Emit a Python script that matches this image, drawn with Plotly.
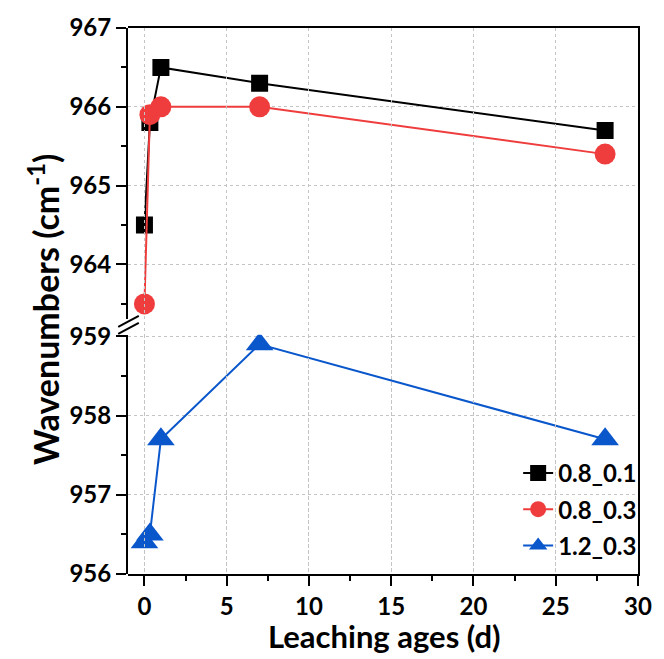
import plotly.graph_objects as go

# ---- data ----
ages = [0, 0.33, 1, 7, 28]
series_names = ["0.8_0.1", "0.8_0.3", "1.2_0.3"]
wn_08_01 = [964.5, 965.8, 966.5, 966.3, 965.7]
wn_08_03 = [963.5, 965.9, 966.0, 966.0, 965.4]
wn_12_03 = [956.4, 956.5, 957.7, 958.9, 957.7]
x_tick_vals = [0, 5, 10, 15, 20, 25, 30]
upper_ticks = [964, 965, 966, 967]
lower_ticks = [956, 957, 958, 959]

FONT = "Lato"
BLACK = "#000000"
RED = "#EF3D3D"
BLUE = "#0A57CC"
GRID = "#C4C4C4"

fig = go.Figure()

# empty helper trace on full-height axis (for full-height x grid / frame)
fig.add_trace(go.Scatter(x=[None], y=[None], xaxis="x", yaxis="y3",
                         showlegend=False, hoverinfo="skip"))
fig.add_trace(go.Scatter(
    x=ages, y=wn_08_01, name=series_names[0], xaxis="x", yaxis="y",
    mode="lines+markers", legendgroup="a",
    line=dict(color=BLACK, width=2),
    marker=dict(symbol="square", size=17, color=BLACK)))
fig.add_trace(go.Scatter(
    x=ages, y=wn_08_03, name=series_names[1], xaxis="x", yaxis="y",
    mode="lines+markers", legendgroup="b",
    line=dict(color=RED, width=2),
    marker=dict(symbol="circle", size=21, color=RED)))
fig.add_trace(go.Scatter(
    x=ages, y=wn_12_03, name=series_names[2], xaxis="x", yaxis="y2",
    mode="lines+markers", legendgroup="c",
    line=dict(color=BLUE, width=2),
    marker=dict(symbol="triangle-up", size=24, color=BLUE)))

tickfont = dict(family=FONT, size=24, color="black", weight="bold")

common_y = dict(
    showline=True, linecolor="black", linewidth=2,
    ticks="outside", ticklen=10, tickwidth=2, tickcolor="black",
    tickfont=tickfont, showgrid=True, gridcolor=GRID, griddash="dot",
    gridwidth=1, zeroline=False,
    minor=dict(dtick=0.5, ticks="outside", ticklen=5, tickwidth=2,
               tickcolor="black", showgrid=False),
)

fig.update_layout(
    width=664, height=659,
    margin=dict(l=128, r=16, t=24, b=85),
    paper_bgcolor="white", plot_bgcolor="rgba(0,0,0,0)",
    showlegend=True,
    legend=dict(x=0.765, y=0.2255, xanchor="left", yanchor="top",
                font=dict(family=FONT, size=24, color="black", weight="bold"),
                bgcolor="rgba(0,0,0,0)", tracegroupgap=2,
                itemwidth=30),
    xaxis=dict(
        range=[-1, 30], anchor="y3", domain=[0, 1],
        tickvals=x_tick_vals,
        showline=True, linecolor="black", linewidth=2, mirror=True,
        ticks="outside", ticklen=10, tickwidth=2, tickcolor="black",
        tickfont=tickfont, showgrid=True, gridcolor=GRID, griddash="dot",
        gridwidth=1, zeroline=False,
        minor=dict(dtick=2.5, ticks="outside", ticklen=5, tickwidth=2,
                   tickcolor="black", showgrid=False),
    ),
    yaxis=dict(domain=[0.4673, 1], range=[963.31, 967], anchor="x",
               tickvals=upper_ticks, **common_y),
    yaxis2=dict(domain=[0, 0.4382], range=[956, 959.02], anchor="x",
                tickvals=lower_ticks, **common_y),
    yaxis3=dict(domain=[0, 1], range=[0, 1], anchor="x", side="right",
                showline=True, linecolor="black", linewidth=2,
                showticklabels=False, ticks="", showgrid=False,
                zeroline=False, fixedrange=True),
)

# axis titles
fig.add_annotation(
    text="Wavenumbers (cm<sup>-1</sup>)", xref="paper", yref="paper",
    x=-0.165, y=0.485, textangle=-90, showarrow=False,
    xanchor="center", yanchor="middle",
    font=dict(family=FONT, size=34, color="black", weight="bold"))
fig.add_annotation(
    text="Leaching ages (d)", xref="paper", yref="paper",
    x=0.502, y=-0.1527, showarrow=False,
    xanchor="center", yanchor="bottom",
    font=dict(family=FONT, size=31, color="black", weight="bold"))

# axis-break marks on left spine
def px2paper(px, py):
    return (px - 128) / 520, (574 - py) / 550

for (x0, y0, x1, y1) in [(118, 325, 139, 314), (118, 332, 139, 321)]:
    a0, b0 = px2paper(x0, y0)
    a1, b1 = px2paper(x1, y1)
    fig.add_shape(type="line", xref="paper", yref="paper",
                  x0=a0, y0=b0, x1=a1, y1=b1,
                  line=dict(color="black", width=2))

fig.write_html("out.html")
